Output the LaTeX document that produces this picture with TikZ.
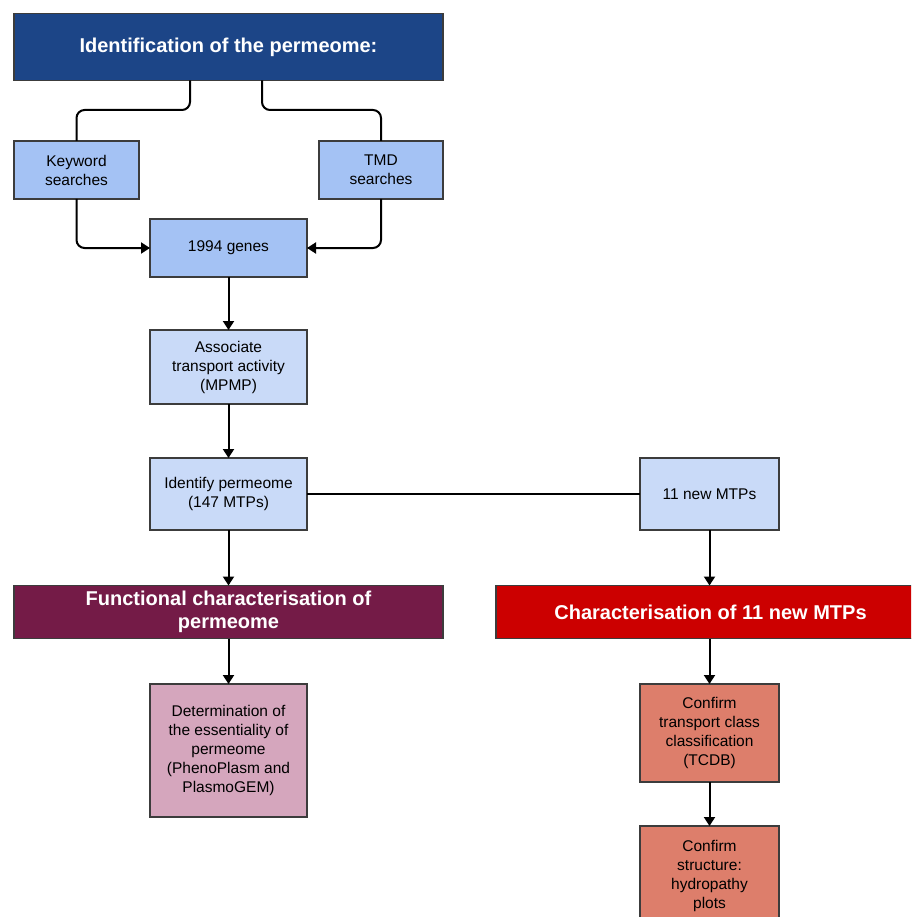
\documentclass[tikz,border=0pt]{standalone}
\usepackage{fontspec}
\setmainfont{Liberation Sans}
\usepackage{xcolor}
\usepackage{tikz}
\usetikzlibrary{positioning, calc, arrows.meta}
\definecolor{TitleBlue}{HTML}{1C4587}
\definecolor{SearchBlue}{HTML}{A4C2F4}
\definecolor{PaleBlue}{HTML}{C9DAF8}
\definecolor{PlumDark}{HTML}{741B47}
\definecolor{PlumLight}{HTML}{D5A6BD}
\definecolor{RedDark}{HTML}{CC0000}
\definecolor{RedLight}{HTML}{DD7E6B}
\definecolor{BoxEdge}{HTML}{3C3C3C}
\tikzset{
    basebox/.style={
        draw=BoxEdge, line width=1.8pt, inner sep=2pt, outer sep=0pt,
        align=center, anchor=center, font=\fontsize{15.5}{19}\selectfont
    },
    headbox/.style={
        basebox, minimum width=429pt, text=white,
        font=\fontsize{20}{23}\selectfont\bfseries
    },
    link/.style={
        line width=2pt, black
    },
    ptr/.style={
        link, -{Triangle[length=9pt, width=11pt]}
    }
}

\begin{document}
\begin{tikzpicture}[x=1pt, y=-1pt]
    \clip (0,0) rectangle (911,917);

    % --- IDENTIFICATION BRANCH ---
    \node[headbox, fill=TitleBlue, minimum height=67pt] (ident head) at (228.5,47)
        {Identification of the permeome:};

    \node[basebox, fill=SearchBlue, minimum width=125pt, minimum height=58pt] (kw) at (76.5,170)
        {Keyword\\searches};
    \node[basebox, fill=SearchBlue, minimum width=124pt, minimum height=58pt] (tmd) at (381,170)
        {TMD\\searches};
    \node[basebox, fill=SearchBlue, minimum width=157pt, minimum height=58pt] (genes) at (228.5,248)
        {1994 genes};

    \node[basebox, fill=PaleBlue, minimum width=157pt, minimum height=74pt,
          below=53pt of genes] (assoc)
        {Associate\\transport activity\\(MPMP)};
    \node[basebox, fill=PaleBlue, minimum width=157pt, minimum height=72pt,
          below=54pt of assoc] (perm)
        {Identify permeome\\(147 MTPs)};
    \node[basebox, fill=PaleBlue, minimum width=139pt, minimum height=72pt] (newm) at (709.5,494)
        {11 new MTPs};

    % --- CHARACTERISATION BRANCHES ---
    \node[headbox, fill=PlumDark, minimum height=53pt] (func) at (228.5,612)
        {Functional characterisation of\\permeome};
    \node[headbox, fill=RedDark, minimum height=53pt] (charm) at (710.5,612)
        {Characterisation of 11 new MTPs};

    \node[basebox, fill=PlumLight, minimum width=157pt, minimum height=133pt] (determ) at (228.5,750.5)
        {Determination of\\the essentiality of\\permeome\\(PhenoPlasm and\\PlasmoGEM)};
    \node[basebox, fill=RedLight, minimum width=139pt, minimum height=98pt] (tcdb) at (709.5,733)
        {Confirm\\transport class\\classification\\(TCDB)};
    \node[basebox, fill=RedLight, minimum width=139pt, minimum height=100pt,
          below=44pt of tcdb] (hydro)
        {Confirm\\structure:\\hydropathy\\plots};

    % --- CONNECTORS ---
    \coordinate (kwjoin) at (190,110);
    \coordinate (tmdjoin) at (262,110);
    \draw[link, rounded corners=8pt] (ident head.south -| kwjoin) -- (kwjoin) -| (kw.north);
    \draw[link, rounded corners=8pt] (ident head.south -| tmdjoin) -- (tmdjoin) -| (tmd.north);
    \draw[ptr, rounded corners=8pt] (kw.south) |- (genes.west);
    \draw[ptr, rounded corners=8pt] (tmd.south) |- (genes.east);

    \draw[ptr] (genes) -- (assoc);
    \draw[ptr] (assoc) -- (perm);
    \draw[link] (perm) -- (newm);
    \draw[ptr] (perm) -- (func);
    \draw[ptr] (newm) -- (newm |- charm.north);
    \draw[ptr] (func) -- (determ);
    \draw[ptr] (charm.south -| tcdb) -- (tcdb);
    \draw[ptr] (tcdb) -- (hydro);

\end{tikzpicture}
\end{document}
